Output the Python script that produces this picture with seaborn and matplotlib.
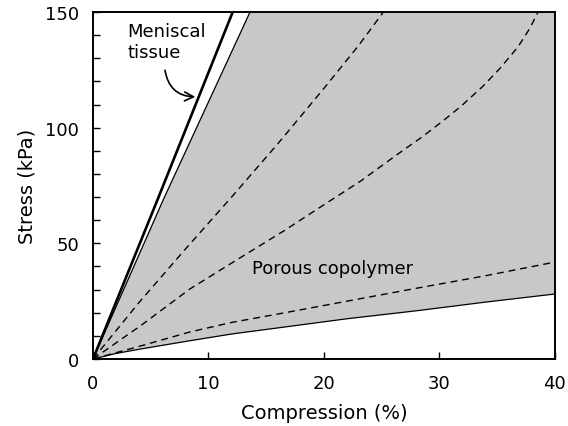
import numpy as np
import pandas as pd
import matplotlib
matplotlib.use("Agg")
import matplotlib.pyplot as plt
import seaborn as sns

# ---- data ----
meniscal_x = [0, 5.6, 12.1, 12.6]
meniscal_y = [0, 69, 150, 156]

upper_x = [0, 6.1, 13.6, 14.0]
upper_y = [0, 69, 150, 154]

lower_x = [0, 2.0, 4.1, 8.4, 12.0, 16.4, 22.0, 28.1, 34.0, 40]
lower_y = [0, 2.4, 4.3, 7.9, 10.8, 13.7, 17.4, 20.9, 24.6, 28.1]

dash1_x = [0, 4.0, 8.0, 12.0, 16.0, 20.0, 23.0, 25.0, 25.4]
dash1_y = [0, 24.5, 47.5, 70.0, 93.0, 117.0, 135.5, 149.0, 152.0]

dash2_x = [0, 4.1, 8.4, 12.5, 16.5, 19.7, 23.2, 26.4, 28.5, 30.3, 31.9, 33.7, 35.2, 36.8, 37.8, 38.5, 38.8]
dash2_y = [0, 14.3, 30.3, 43, 55.3, 65.7, 77, 88.6, 96, 102.9, 109.4, 117.6, 125.4, 134.9, 142.7, 149.6, 153]

dash3_x = [0, 4.1, 8.4, 12.0, 16.4, 22.0, 27.7, 34.0, 40]
dash3_y = [0, 5.6, 11.7, 15.8, 19.8, 25.0, 30.3, 36.0, 41.9]

x_ticks = [0, 10, 20, 30, 40]
y_ticks = list(range(0, 151, 10))
y_labels = [str(v) if v % 50 == 0 else "" for v in y_ticks]

XMAX, YMAX = 40, 150

# ---- plot ----
sns.set_style("white")
plt.rcParams['font.family'] = ['DejaVu Sans']
plt.rcParams['text.color'] = 'black'
plt.rcParams['axes.labelcolor'] = 'black'
plt.rcParams['xtick.color'] = 'black'
plt.rcParams['ytick.color'] = 'black'

fig = plt.figure(figsize=(5.68, 4.27), dpi=100)
ax = fig.add_axes([0.1637, 0.1569, 0.977 - 0.1637, 0.9696 - 0.1569])

# grey band between lower solid curve and upper thin line
poly_x = list(lower_x) + [XMAX] + list(upper_x[::-1])
poly_y = list(lower_y) + [YMAX + 10] + list(upper_y[::-1])
ax.fill(poly_x, poly_y, color="#c8c8c8", lw=0, zorder=1)

def line(x, y, **kw):
    df = pd.DataFrame({"x": x, "y": y})
    sns.lineplot(data=df, x="x", y="y", ax=ax, sort=False, estimator=None,
                 color="black", **kw)

line(lower_x, lower_y, lw=0.9)
line(upper_x, upper_y, lw=0.9)
line(meniscal_x, meniscal_y, lw=1.9)
for dx, dy in [(dash1_x, dash1_y), (dash2_x, dash2_y), (dash3_x, dash3_y)]:
    line(dx, dy, lw=1.0, dashes=False, linestyle=(0, (5, 3.5)))

ax.set_xlim(0, XMAX)
ax.set_ylim(0, YMAX)
ax.set_xticks(x_ticks)
ax.set_yticks(y_ticks)
ax.set_yticklabels(y_labels)
ax.tick_params(axis="both", direction="in", length=5, width=1.0, colors="black",
               labelsize=13, left=True, bottom=True, top=False, right=False)
ax.tick_params(axis="x", pad=11)
ax.tick_params(axis="y", pad=10)
for s in ax.spines.values():
    s.set_color("black")
    s.set_linewidth(1.4)

ax.set_xlabel("Compression (%)", fontsize=14, labelpad=8, color="black")
ax.set_ylabel("Stress (kPa)", fontsize=14, labelpad=6, color="black")

ax.text(3.0, 145.5, "Meniscal\ntissue", fontsize=13, ha="left", va="top",
        linespacing=1.2, color="black")
ax.annotate("", xy=(9.1, 113.3), xytext=(6.2, 126.0),
            arrowprops=dict(arrowstyle="->", lw=1.2, color="black",
                            connectionstyle="arc3,rad=0.45",
                            mutation_scale=16))
ax.text(13.8, 39.3, "Porous copolymer", fontsize=13, ha="left", va="center",
        color="black")

fig.savefig("out.png", dpi=100)
